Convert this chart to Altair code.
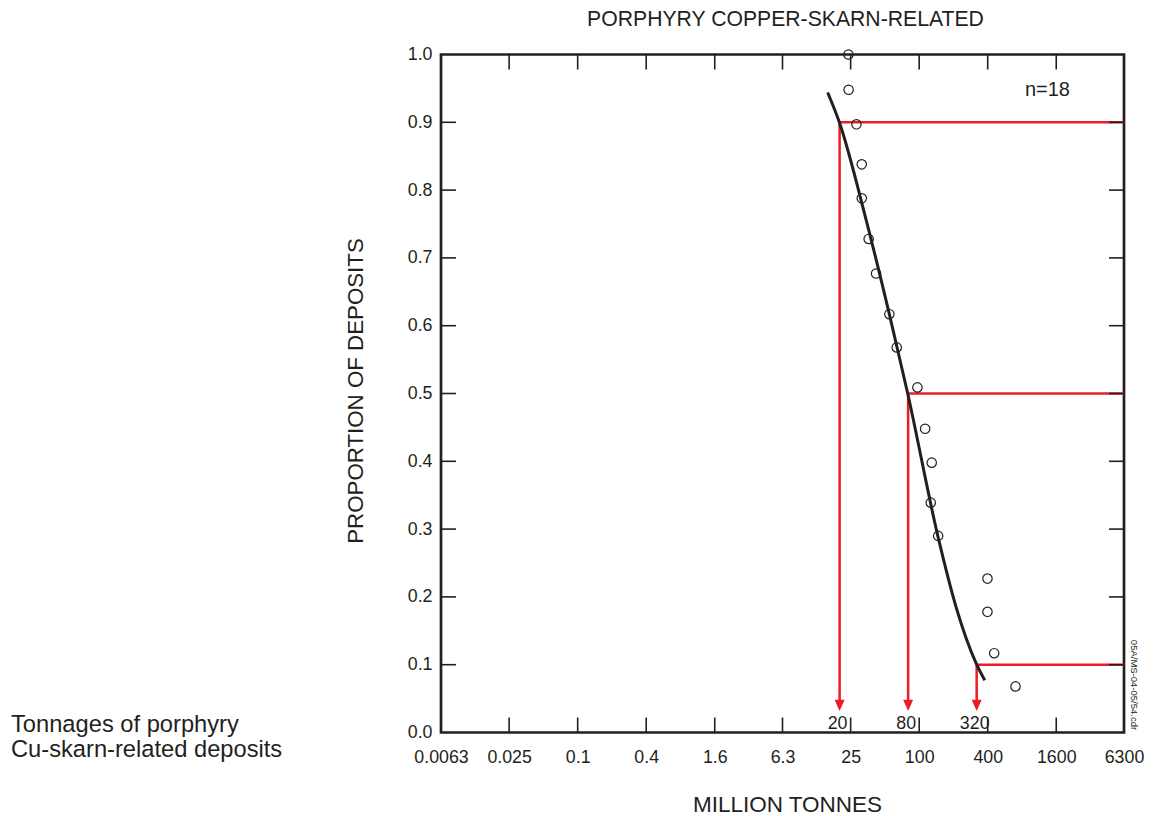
import altair as alt
import pandas as pd

# ---------------- data ----------------
x_tick_values = [0.0063, 0.025, 0.1, 0.4, 1.6, 6.3, 25, 100, 400, 1600, 6300]
y_tick_values = [0.0, 0.1, 0.2, 0.3, 0.4, 0.5, 0.6, 0.7, 0.8, 0.9, 1.0]

# observed deposits (million tonnes, cumulative proportion)
tonnage = [23.9, 24.0, 28.1, 31.3, 31.3, 36.0, 41.8, 54.7, 63.5,
           96.5, 112.8, 128.9, 126.4, 146.8, 398, 398, 456, 702]
proportion = [1.0, 0.948, 0.897, 0.838, 0.788, 0.728, 0.677, 0.617, 0.568,
              0.509, 0.448, 0.398, 0.339, 0.290, 0.227, 0.178, 0.117, 0.068]

# fitted curve
curve_tonnage = [15.7, 19.9, 34.2, 54.7, 79.3, 148.6, 211, 316.7, 377]
curve_proportion = [0.944, 0.90, 0.756, 0.617, 0.50, 0.284, 0.185, 0.102, 0.077]

# 90th / 50th / 10th percentiles
pct_levels = [0.9, 0.5, 0.1]
pct_tonnage = [20, 80, 320]
pct_labels = ["20", "80", "320"]
arrow_base = 0.047
arrow_tip_center = 0.040
arrow_label_level = 0.0045

n_label_pos = (1340, 0.947)

title_text = "PORPHYRY COPPER-SKARN-RELATED"
x_title = "MILLION TONNES"
y_title = "PROPORTION OF DEPOSITS"
note_lines = ["Tonnages of porphyry", "Cu-skarn-related deposits"]
file_code = "05A/MS-04-05/54.cdr"

# ---------------- styling ----------------
FONT = "Liberation Sans"
INK = "#231f20"
RED = "#ed1c24"
W, H = 683, 678
PAD_L, PAD_T = 441, 54.5
TICK = 15

xscale = alt.Scale(type="log", domain=[x_tick_values[0], x_tick_values[-1]], nice=False)
yscale = alt.Scale(domain=[y_tick_values[0], y_tick_values[-1]], nice=False, zero=False)

pts = pd.DataFrame({"t": tonnage, "p": proportion})
curve = pd.DataFrame({"t": curve_tonnage, "p": curve_proportion})
pct = pd.DataFrame({
    "t": pct_tonnage,
    "p": pct_levels,
    "label": pct_labels,
    "t_end": [x_tick_values[-1]] * len(pct_levels),
    "p_base": [arrow_base] * len(pct_levels),
    "p_tip": [arrow_tip_center] * len(pct_levels),
    "p_lab": [arrow_label_level] * len(pct_levels),
})
xt = pd.DataFrame({"t": x_tick_values[1:-1]})
yt = pd.DataFrame({"p": y_tick_values[1:-1]})
nlab = pd.DataFrame({"t": [n_label_pos[0]], "p": [n_label_pos[1]], "txt": [f"n={len(tonnage)}"]})
one = pd.DataFrame({"a": [0]})

x_axis = alt.Axis(
    title=x_title, values=x_tick_values, format="~g", grid=False, domain=False,
    ticks=False, tickSize=0, labelFlush=False, labelOverlap=False,
    labelFont=FONT, labelFontSize=17.8, labelColor=INK, labelPadding=30.4,
    labelBaseline="alphabetic",
    titleFont=FONT, titleFontSize=22.5, titleFontWeight="normal", titleColor=INK,
    titleX=346, titleY=79.4, titleBaseline="alphabetic", titleAlign="center",
)
y_axis = alt.Axis(
    title=y_title, values=y_tick_values, format=".1f", grid=False, domain=False,
    ticks=False, tickSize=0, labelFlush=False, labelOverlap=False,
    labelFont=FONT, labelFontSize=17.8, labelColor=INK, labelPadding=9,
    titleFont=FONT, titleFontSize=22.3, titleFontWeight="normal", titleColor=INK,
    titleX=-78.5, titleY=336, titleBaseline="alphabetic", titleAlign="center", titleAngle=270,
)

X = lambda f: alt.X(f, type="quantitative", scale=xscale, axis=x_axis)
Y = lambda f: alt.Y(f, type="quantitative", scale=yscale, axis=y_axis)

hlines = alt.Chart(pct).mark_rule(color=RED, strokeWidth=2.5).encode(
    x=X("t"), x2="t_end", y=Y("p"))
vlines = alt.Chart(pct).mark_rule(color=RED, strokeWidth=2.5).encode(
    x=X("t"), y=Y("p"), y2="p_base")
arrows = alt.Chart(pct).mark_point(
    shape="M-1,-1.14L1,-1.14L0,1.14Z", filled=True, color=RED, size=100, opacity=1, strokeWidth=0
).encode(x=X("t"), y=Y("p_tip"))
arrow_labels = alt.Chart(pct).mark_text(
    font=FONT, fontSize=17.8, color=INK, align="center", baseline="alphabetic", dx=-2
).encode(x=X("t"), y=Y("p_lab"), text="label:N")

line = alt.Chart(curve).mark_line(color=INK, strokeWidth=3, interpolate="monotone").encode(
    x=X("t"), y=Y("p"))
points = alt.Chart(pts).mark_point(
    shape="circle", filled=False, color=INK, size=88, strokeWidth=1.2, opacity=1
).encode(x=X("t"), y=Y("p"))

tick_style = dict(color=INK, strokeWidth=1.6)
bottom_ticks = alt.Chart(xt).mark_rule(**tick_style).encode(
    x=X("t"), y=alt.value(H), y2=alt.value(H - TICK))
top_ticks = alt.Chart(xt).mark_rule(**tick_style).encode(
    x=X("t"), y=alt.value(0), y2=alt.value(TICK))
left_ticks = alt.Chart(yt).mark_rule(**tick_style).encode(
    y=Y("p"), x=alt.value(0), x2=alt.value(TICK))
right_ticks = alt.Chart(yt).mark_rule(**tick_style).encode(
    y=Y("p"), x=alt.value(W), x2=alt.value(W - TICK))

n_text = alt.Chart(nlab).mark_text(
    font=FONT, fontSize=20, color=INK, align="center", baseline="middle"
).encode(x=X("t"), y=Y("p"), text="txt:N")

title_mark = alt.Chart(one).mark_text(
    text=title_text, font=FONT, fontSize=21.2, color=INK, align="center", baseline="alphabetic"
).encode(x=alt.value(W / 2 + 3), y=alt.value(26 - PAD_T))

note = alt.Chart(one).mark_text(
    text=note_lines, font=FONT, fontSize=23.7, color=INK, align="left",
    baseline="alphabetic", lineHeight=25
).encode(x=alt.value(11 - PAD_L), y=alt.value(731.7 - PAD_T))

code = alt.Chart(one).mark_text(
    text=file_code, font=FONT, fontSize=9.5, color=INK, angle=90,
    align="center", baseline="middle"
).encode(x=alt.value(1134 - PAD_L), y=alt.value(685 - PAD_T))

chart = alt.layer(
    hlines, vlines, arrows, arrow_labels, bottom_ticks, top_ticks, left_ticks, right_ticks,
    line, points, n_text, title_mark, note, code
).properties(
    width=W, height=H,
    padding={"left": PAD_L, "top": PAD_T, "right": 1155 - PAD_L - W, "bottom": 816 - PAD_T - H},
    autosize=alt.AutoSizeParams(type="none"),
    background="white",
).configure_view(stroke=INK, strokeWidth=2.7)

chart.save("out.html", embed_options={"renderer": "svg", "actions": False})
